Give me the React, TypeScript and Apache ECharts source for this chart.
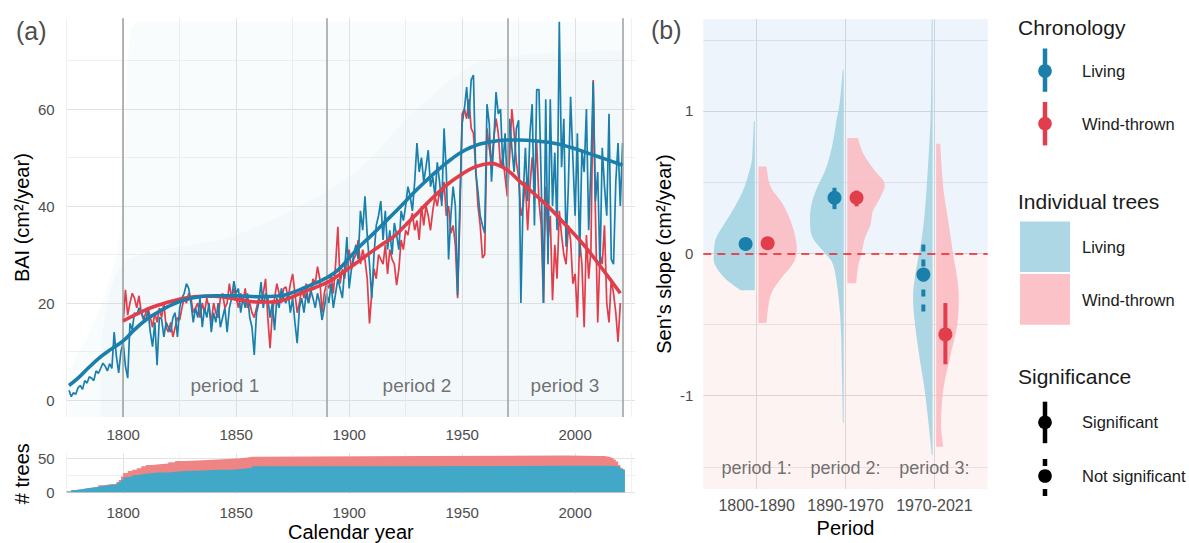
import React, { useEffect, useRef } from 'react';
import * as echarts from 'echarts';

// ---------------- Panel (a): chronologies ----------------
const livingStartYear = 1776;
const livingBAI = [
  2, 0.7, 1.5, 1.2,
  2.5, 3, 2.2, 4, 3.5, 4.8, 4.5, 4, 6, 5.5,
  6.5, 7.6, 7, 6, 7.5, 6.5, 14, 9, 5.6, 10,
  11.8, 7, 4.5, 15.8, 14.5, 18, 17.5, 19, 18, 17,
  16.5, 18.5, 14, 11, 16, 7.2, 17, 16.7, 13, 16,
  15, 14, 17, 18, 13, 19, 21, 22, 24, 23,
  20, 16, 19, 17, 21, 15, 19, 17, 20, 14,
  18, 16, 20, 15, 17, 19, 14, 19, 21, 24.5,
  22, 23, 18, 21, 19, 22, 17, 15, 9.3, 18,
  20, 24.3, 19, 22, 21, 17, 20, 14.4, 21, 19,
  23, 21, 20, 22, 18, 21, 16, 11.7, 19, 21,
  18, 22, 20, 22.7, 21, 19, 22, 20, 16.5, 19,
  22, 20, 24, 19, 22, 25, 23, 21, 27, 33.6,
  23, 27, 30, 32, 29, 39, 35, 42, 34, 28,
  21, 30, 36, 38, 41, 33, 39, 31, 35, 30,
  36.5, 34, 31, 39, 37, 40, 44, 42, 39, 45,
  53, 47, 50, 45, 48, 51.5, 44, 46, 42, 49,
  45, 40, 56, 47, 29, 38, 44, 40, 21.6, 41,
  57, 60, 64.5, 58, 66, 67, 47, 43, 38, 36,
  34.4, 61, 57, 45, 53, 63.5, 59, 60, 48, 55,
  44, 58, 52, 47, 56, 57.7, 20, 42, 52, 41,
  55, 61, 36, 64, 64, 45, 20, 62, 28, 62,
  40, 51, 35, 78, 48, 58, 31.6, 44, 62.5, 50,
  38, 55, 29.5, 51.5, 47, 60, 35, 48, 65.6, 41,
  47, 27, 52, 44, 38, 59, 29, 28, 45, 53,
  40, 53,
];
const windStartYear = 1800;
const windBAI = [
  16, 22.7, 17.5, 20, 22, 21, 19, 21.5, 18, 16.5,
  18, 19, 17, 15, 18, 16, 19, 17, 20, 15,
  14, 16, 13, 15, 17, 16.5, 19, 21, 20, 22,
  21, 18, 19, 20, 17, 20, 18, 21, 19, 16,
  20, 18, 17, 21, 22, 19, 20, 24, 21, 23,
  21, 19, 22, 20, 23, 19, 20, 18, 17, 19,
  21, 20, 22, 25, 17, 10.7, 18, 21, 24, 22,
  20, 23, 23.3, 21, 24, 26, 22, 18, 20, 23,
  21, 24, 20, 22, 25, 24, 27.5, 25, 18, 22,
  24, 23, 26, 22, 28, 35.7, 24, 27, 25, 29,
  31, 27, 29, 30, 33, 28, 31, 29, 25, 15.8,
  22, 27, 25, 30, 29, 28, 32, 26, 31, 29,
  28, 23.7, 27, 33, 31, 35, 34, 37, 38.5, 35,
  37, 33, 40, 36, 40, 38, 35, 39, 42, 40,
  43, 41, 45, 38, 40, 34.4, 36, 32, 21, 38,
  59, 60, 58, 62, 56, 55, 48, 40, 36, 29.3,
  30, 56, 52, 49, 54, 58, 55, 48, 50, 46,
  42, 50, 60, 55, 49, 46, 38, 40, 45, 35,
  44, 50, 45, 53, 41, 36, 20, 44, 33, 38,
  20.6, 32, 25, 39, 34, 30, 28, 36, 33, 24,
  26, 17, 33, 28, 15, 34, 25, 31, 66, 38,
  16, 30, 28, 36, 20, 16, 25, 22, 18, 12,
  20,
];

// loess-type smooths with confidence half-widths
const livingSmoothYears = [1776, 1780, 1785, 1790, 1795, 1800, 1805, 1810, 1815, 1820, 1825, 1830, 1840, 1850, 1860, 1870, 1875, 1880, 1885, 1890, 1895, 1900, 1905, 1910, 1915, 1920, 1925, 1930, 1935, 1940, 1945, 1950, 1955, 1960, 1965, 1970, 1975, 1980, 1985, 1990, 1995, 2000, 2005, 2010, 2015, 2021];
const livingSmooth = [3, 4.5, 6.8, 8.9, 10.6, 12.2, 14.5, 16.5, 18, 19.3, 20.3, 21, 21.5, 21.5, 21.3, 21.5, 22.2, 23.1, 24.1, 25.2, 26.8, 29.3, 31.8, 34, 36.3, 38.6, 41, 43.4, 45.6, 47.7, 49.6, 51.2, 52.3, 53, 53.4, 53.6, 53.6, 53.5, 53.3, 53, 52.5, 51.8, 51, 50.2, 49.4, 48.4];
const livingSmoothCI = [5, 3.8, 2.8, 2.1, 1.7, 1.4, 1.2, 1.1, 1, 1, 0.9, 0.9, 0.9, 0.9, 0.9, 0.9, 0.9, 0.9, 0.9, 0.9, 0.9, 0.9, 0.9, 0.9, 0.9, 0.9, 0.9, 0.9, 0.9, 0.9, 0.9, 0.9, 0.9, 0.9, 0.9, 0.9, 1, 1.1, 1.2, 1.3, 1.4, 1.5, 1.7, 1.9, 2.2, 2.6];
const windSmoothYears = [1800, 1805, 1810, 1815, 1820, 1825, 1830, 1835, 1840, 1845, 1850, 1855, 1860, 1865, 1870, 1875, 1880, 1885, 1890, 1895, 1900, 1905, 1910, 1915, 1920, 1925, 1930, 1935, 1940, 1945, 1950, 1955, 1960, 1963, 1965, 1970, 1975, 1980, 1985, 1990, 1995, 2000, 2005, 2010, 2015, 2020];
const windSmooth = [16.3, 17.5, 18.6, 19.5, 20.2, 20.8, 21.2, 21.4, 21.4, 21.2, 20.8, 20.4, 20.2, 20.2, 20.5, 21.3, 22.3, 23.2, 24.2, 25.6, 27.2, 28.9, 30.6, 32.2, 33.8, 36.1, 38.4, 40.8, 43, 45, 46.6, 47.9, 48.6, 48.8, 48.6, 47.4, 45.3, 43.3, 41.2, 39, 36.5, 34, 31.3, 28.3, 25.2, 22];
const windSmoothCI = [2, 1.5, 1.2, 1, 0.9, 0.9, 0.9, 0.9, 0.9, 0.9, 0.9, 0.9, 0.9, 0.9, 0.9, 0.9, 0.9, 0.9, 0.9, 0.9, 0.9, 0.9, 0.9, 0.9, 0.9, 0.9, 0.9, 0.9, 0.9, 0.9, 0.9, 0.9, 0.9, 0.9, 0.9, 0.9, 1, 1.05, 1.1, 1.2, 1.25, 1.35, 1.5, 1.8, 2.1, 2.6];

// faint range of the individual tree series
const hazeYears = [1776, 1785, 1792, 1797, 1800, 1806, 1850, 1900, 1950, 2021];
const hazeHigh = [6, 14, 22, 30, 42, 78, 78, 78, 78, 78];
const coreYears = [1790, 1800, 1850, 1900, 1930, 1960, 2021];
const coreHigh = [10, 28, 34, 46, 60, 70, 72];

const periodBounds = [1800, 1890, 1970, 2021];
const periodNames = ['period 1', 'period 2', 'period 3'];
const periodMid = [1845, 1930, 1995.5];

const gridYears = [1775, 1800, 1825, 1850, 1875, 1900, 1925, 1950, 1975, 2000, 2025];
const labelYears = [1800, 1850, 1900, 1950, 2000];
const baiGrid = [0, 10, 20, 30, 40, 50, 60, 70];
const baiLabels = [0, 20, 40, 60];

// ---------------- Panel (a): number of trees ----------------
const countYears = [1775, 1777, 1779, 1781, 1783, 1785, 1787, 1789, 1791, 1793, 1795, 1797, 1798, 1799, 1800, 1802, 1804, 1806, 1808, 1810, 1813, 1816, 1820, 1823, 1828, 1835, 1842, 1848, 1852, 1855, 1857, 1934, 1996, 2010, 2013, 2015, 2016, 2017, 2018, 2019, 2020, 2021, 2022];
const livingCount = [1, 3, 4, 5, 6, 7, 8, 9, 10, 11, 11, 13, 15, 18, 22, 23, 25, 26, 27, 28, 29, 29, 30, 31, 32, 33, 33, 34, 35, 36, 38, 39, 39, 39, 39, 39, 39, 38, 38, 37, 34, 33, 33];
const windCount = [0, 0, 0, 0, 0, 0, 0, 1, 1, 1, 1, 2, 3, 5, 6, 8, 8, 9, 11, 12, 12, 13, 14, 15, 15, 15, 16, 16, 16, 16, 15, 15, 14, 14, 13, 12, 11, 10, 7, 3, 2, 0, 0];
const countGrid = [0, 25, 50];
const countLabels = [0, 50];

// ---------------- Panel (b): Sen's slopes ----------------
const periodCats = ['1800-1890', '1890-1970', '1970-2021'];
const periodCaps = ['period 1:', 'period 2:', 'period 3:'];
const livingSlope = [0.065, 0.39, -0.15];
const livingLo = [0.04, 0.31, -0.41];
const livingHi = [0.09, 0.46, 0.07];
const livingSig = [1, 1, 0];
const windSlope = [0.07, 0.39, -0.57];
const windLo = [0.045, 0.33, -0.78];
const windHi = [0.095, 0.44, -0.35];
const windSig = [1, 1, 1];

// half-violin density profiles (y value, half width in category units)
const livingViolinY = [
  [-0.26, -0.18, -0.08, 0, 0.1, 0.2, 0.29, 0.38, 0.46, 0.56, 0.65, 0.8, 0.93],
  [-1.19, -0.85, -0.49, -0.25, -0.08, 0, 0.11, 0.23, 0.35, 0.46, 0.58, 0.7, 0.82, 0.94, 1.06, 1.29],
  [-1.42, -1.2, -0.96, -0.72, -0.49, -0.3, -0.13, 0.11, 0.35, 0.58, 1.0, 1.64],
];
const livingViolinW = [
  [0.16, 0.33, 0.45, 0.46, 0.44, 0.35, 0.26, 0.18, 0.12, 0.07, 0.035, 0.02, 0.01],
  [0.01, 0.02, 0.035, 0.07, 0.12, 0.21, 0.35, 0.38, 0.36, 0.3, 0.21, 0.15, 0.11, 0.08, 0.045, 0.01],
  [0.01, 0.045, 0.09, 0.15, 0.2, 0.22, 0.19, 0.12, 0.08, 0.055, 0.02, 0.01],
];
const windViolinY = [
  [-0.49, -0.3, -0.18, -0.08, 0, 0.1, 0.23, 0.35, 0.47, 0.61],
  [-0.21, -0.1, 0, 0.11, 0.2, 0.3, 0.39, 0.49, 0.58, 0.7, 0.81],
  [-1.36, -1.2, -0.96, -0.72, -0.49, -0.25, 0, 0.23, 0.46, 0.77],
];
const windViolinW = [
  [0.09, 0.135, 0.25, 0.38, 0.43, 0.42, 0.36, 0.27, 0.135, 0.09],
  [0.1, 0.12, 0.16, 0.2, 0.26, 0.29, 0.37, 0.42, 0.31, 0.18, 0.12],
  [0.08, 0.055, 0.08, 0.16, 0.24, 0.25, 0.19, 0.135, 0.08, 0.045],
];
const slopeGrid = [-1.5, -1, -0.5, 0, 0.5, 1, 1.5];
const slopeLabels = [-1, 0, 1];

// ---------------- styling ----------------
const FONT = "'Liberation Sans', Arial, Helvetica, sans-serif";
const TICK = '#4d4d4d';
const BLUE = '#1a7fab';
const RED = '#e13d4a';
const MAJOR = '#e2e2e2';
const MINOR = '#f0f0f0';
const DODGE = 0.124;
const GAP = 0.02;
const VBLUE = 'rgba(166,212,227,0.92)';
const VPINK = 'rgba(250,186,192,0.88)';

function catmull(ys: number[], ws: number[], steps = 8): [number, number][] {
  const out: [number, number][] = [];
  const n = ys.length;
  for (let i = 0; i < n - 1; i++) {
    const a = Math.max(i - 1, 0), d = Math.min(i + 2, n - 1);
    for (let s = 0; s < steps; s++) {
      const t = s / steps, t2 = t * t, t3 = t2 * t;
      const f = (p0: number, p1: number, p2: number, p3: number) =>
        0.5 * (2 * p1 + (-p0 + p2) * t + (2 * p0 - 5 * p1 + 4 * p2 - p3) * t2 + (-p0 + 3 * p1 - 3 * p2 + p3) * t3);
      out.push([f(ys[a], ys[i], ys[i + 1], ys[d]), Math.max(0.004, f(ws[a], ws[i], ws[i + 1], ws[d]))]);
    }
  }
  out.push([ys[n - 1], ws[n - 1]]);
  return out;
}

function yearSeries(start: number, vals: number[]) {
  return vals.map((v, i) => [start + i, v]);
}

function band(years: number[], mid: number[], half: number[], id: string) {
  return [
    {
      type: 'line', xAxisIndex: 0, yAxisIndex: 0, stack: id, smooth: true, symbol: 'none', silent: true, z: 5,
      lineStyle: { opacity: 0 }, data: years.map((y, i) => [y, mid[i] - half[i]]),
    },
    {
      type: 'line', xAxisIndex: 0, yAxisIndex: 0, stack: id, smooth: true, symbol: 'none', silent: true, z: 5,
      lineStyle: { opacity: 0 }, areaStyle: { color: 'rgba(140,140,140,0.45)' },
      data: years.map((y, i) => [y, 2 * half[i]]),
    },
  ];
}

function hazeArea(years: number[], high: number[], color: string) {
  return {
    type: 'line', xAxisIndex: 0, yAxisIndex: 0, smooth: 0.3, symbol: 'none', silent: true, z: 1,
    lineStyle: { opacity: 0 }, areaStyle: { color, origin: 'start' },
    data: years.map((y, i) => [y, high[i]]),
  };
}

function splitColors(vals: number[], majors: number[]) {
  return vals.map((v) => (majors.indexOf(v) >= 0 ? MAJOR : MINOR));
}

function buildOption() {
  const tickLabel = { color: TICK, fontSize: 15, fontFamily: FONT };
  const nameStyle = { color: '#000', fontSize: 20, fontFamily: FONT };

  const xYear = (gridIndex: number, extra: any = {}) => ({
    type: 'value', gridIndex, min: 1775, max: 2026.5,
    axisLine: { show: false },
    axisTick: { show: false, customValues: gridYears },
    axisLabel: { ...tickLabel, customValues: labelYears, margin: 10, formatter: (v: number) => String(v) },
    splitLine: { show: true, lineStyle: { color: splitColors(gridYears, labelYears), width: 1 } },
    ...extra,
  });

  const violinItems: number[][] = [];
  const ciItems: number[][] = [];
  for (let k = 0; k < 3; k++) {
    violinItems.push([k + 1, -1, k]);
    violinItems.push([k + 1, 1, k]);
    ciItems.push([k + 1 - DODGE, livingLo[k], livingHi[k], livingSig[k], 0]);
    ciItems.push([k + 1 + DODGE, windLo[k], windHi[k], windSig[k], 1]);
  }
  const totalCount = livingCount.map((v, i) => v + windCount[i]);

  const legendText = (x: number, y: number, text: string, size: number) => ({
    type: 'text', x, y, silent: true,
    style: { text, fill: '#1a1a1a', font: `${size}px ${FONT}`, align: 'left', verticalAlign: 'middle' },
  });
  const pointRange = (x: number, y1: number, y2: number, cy: number, color: string, dashed: boolean) => [
    {
      type: 'line', silent: true,
      shape: { x1: x, y1, x2: x, y2 },
      style: { stroke: color, lineWidth: 4.5, lineDash: dashed ? [7, 8] : null },
    },
    { type: 'circle', silent: true, shape: { cx: x, cy, r: 6.8 }, style: { fill: color } },
  ];

  return {
    animation: false,
    backgroundColor: '#ffffff',
    textStyle: { fontFamily: FONT },
    grid: [
      { left: 66.7, top: 18.3, width: 568.3, height: 398.7 },
      { left: 66.7, top: 453.4, width: 568.3, height: 45.2 },
      { left: 703.3, top: 19, width: 284.4, height: 479.6 },
    ],
    xAxis: [
      xYear(0),
      xYear(1, {
        name: 'Calendar year', nameLocation: 'middle', nameGap: 28, nameTextStyle: nameStyle,
        axisLabel: { ...tickLabel, customValues: labelYears, margin: 11, formatter: (v: number) => String(v) },
      }),
      {
        type: 'value', gridIndex: 2, min: 0.4, max: 3.6,
        axisLine: { show: false },
        axisTick: { show: false, customValues: [1, 2, 3] },
        axisLabel: {
          ...tickLabel, fontSize: 16, margin: 8, customValues: [1, 2, 3],
          formatter: (v: number) => periodCats[Math.round(v) - 1] ?? '',
        },
        splitLine: { show: true, lineStyle: { color: '#dedede', width: 1 } },
        name: 'Period', nameLocation: 'middle', nameGap: 28, nameTextStyle: nameStyle,
      },
    ],
    yAxis: [
      {
        type: 'value', gridIndex: 0, min: -3.5, max: 78.7,
        axisLine: { show: false },
        axisTick: { show: false, customValues: baiGrid },
        axisLabel: { ...tickLabel, customValues: baiLabels, margin: 12 },
        splitLine: { show: true, lineStyle: { color: splitColors(baiGrid, baiLabels), width: 1 } },
        name: 'BAI (cm²/year)', nameLocation: 'middle', nameGap: 35, nameRotate: 90, nameTextStyle: nameStyle,
      },
      {
        type: 'value', gridIndex: 1, min: -2.7, max: 57,
        axisLine: { show: false },
        axisTick: { show: false, customValues: countGrid },
        axisLabel: { ...tickLabel, customValues: countLabels, margin: 12 },
        splitLine: { show: true, lineStyle: { color: splitColors(countGrid, countLabels), width: 1 } },
        name: '# trees', nameLocation: 'middle', nameGap: 35, nameRotate: 90, nameTextStyle: nameStyle,
      },
      {
        type: 'value', gridIndex: 2, min: -1.657, max: 1.646,
        axisLine: { show: false },
        axisTick: { show: false, customValues: slopeGrid },
        axisLabel: { ...tickLabel, customValues: slopeLabels, margin: 10 },
        splitLine: { show: true, lineStyle: { color: slopeGrid.map((v) => (slopeLabels.indexOf(v) >= 0 ? '#dcdcdc' : '#e9e9e9')), width: 1 } },
        name: "Sen's slope (cm²/year)", nameLocation: 'middle', nameGap: 29, nameRotate: 90, nameTextStyle: nameStyle,
      },
    ],
    series: [
      // faint individual-tree haze
      hazeArea(hazeYears, hazeHigh, 'rgba(173,216,230,0.11)'),
      hazeArea(coreYears, coreHigh, 'rgba(173,216,230,0.10)'),
      // raw chronologies
      {
        type: 'line', xAxisIndex: 0, yAxisIndex: 0, symbol: 'none', silent: true, z: 3,
        lineStyle: { color: RED, width: 1.7 }, data: yearSeries(windStartYear, windBAI),
      },
      {
        type: 'line', xAxisIndex: 0, yAxisIndex: 0, symbol: 'none', silent: true, z: 4,
        lineStyle: { color: BLUE, width: 1.7 }, data: yearSeries(livingStartYear, livingBAI),
        markLine: {
          silent: true, symbol: 'none', label: { show: false },
          lineStyle: { color: '#a3a3a3', width: 1.6, type: 'solid' },
          data: periodBounds.map((x) => ({ xAxis: x })),
        },
      },
      ...band(windSmoothYears, windSmooth, windSmoothCI, 'ciW'),
      ...band(livingSmoothYears, livingSmooth, livingSmoothCI, 'ciL'),
      {
        type: 'line', xAxisIndex: 0, yAxisIndex: 0, smooth: true, symbol: 'none', silent: true, z: 6,
        lineStyle: { color: RED, width: 3.6 }, data: windSmoothYears.map((y, i) => [y, windSmooth[i]]),
      },
      {
        type: 'line', xAxisIndex: 0, yAxisIndex: 0, smooth: true, symbol: 'none', silent: true, z: 7,
        lineStyle: { color: BLUE, width: 3.6 }, data: livingSmoothYears.map((y, i) => [y, livingSmooth[i]]),
      },
      {
        type: 'scatter', xAxisIndex: 0, yAxisIndex: 0, symbolSize: 0, silent: true, z: 8,
        data: periodMid.map((x, i) => ({ value: [x, 2.9], name: periodNames[i] })),
        label: { show: true, position: 'inside', formatter: (p: any) => p.name, color: TICK, fontSize: 19, fontFamily: FONT },
      },
      // tree counts: total (wind-thrown on top) then living
      {
        type: 'line', xAxisIndex: 1, yAxisIndex: 1, step: 'end', symbol: 'none', silent: true, z: 2,
        lineStyle: { width: 0, opacity: 0 }, areaStyle: { color: '#ef8484', opacity: 1 },
        data: countYears.map((y, i) => [y, totalCount[i]]),
      },
      {
        type: 'line', xAxisIndex: 1, yAxisIndex: 1, step: 'end', symbol: 'none', silent: true, z: 3,
        lineStyle: { width: 0, opacity: 0 }, areaStyle: { color: '#41a8c8', opacity: 1 },
        data: countYears.map((y, i) => [y, livingCount[i]]),
      },
      // panel (b): background, zero line, captions
      {
        type: 'scatter', xAxisIndex: 2, yAxisIndex: 2, symbolSize: 0, silent: true, z: 1,
        data: periodCaps.map((c, i) => ({ value: [i + 1, -1.51], name: c })),
        label: { show: true, position: 'inside', formatter: (p: any) => p.name, color: TICK, fontSize: 18, fontFamily: FONT },
        markArea: {
          silent: true,
          data: [
            [{ yAxis: 0, itemStyle: { color: 'rgba(60,130,210,0.085)' } }, { yAxis: 1.646 }],
            [{ yAxis: -1.657, itemStyle: { color: 'rgba(235,95,95,0.075)' } }, { yAxis: 0 }],
          ],
        },
        markLine: {
          silent: true, symbol: 'none', label: { show: false },
          lineStyle: { color: '#ee1d25', width: 1.6, type: [8, 6] },
          data: [{ yAxis: 0 }],
        },
      },
      {
        type: 'custom', xAxisIndex: 2, yAxisIndex: 2, silent: true, z: 2,
        data: violinItems,
        renderItem: (_params: any, api: any) => {
          const cat = api.value(0), side = api.value(1), k = api.value(2);
          const ys = side < 0 ? livingViolinY[k] : windViolinY[k];
          const ws = side < 0 ? livingViolinW[k] : windViolinW[k];
          const pts = catmull(ys, ws).map(([y, w]) => api.coord([cat + side * (GAP + w), y]));
          pts.push(api.coord([cat + side * GAP, ys[ys.length - 1]]));
          pts.push(api.coord([cat + side * GAP, ys[0]]));
          return {
            type: 'polygon', shape: { points: pts },
            style: { fill: side < 0 ? VBLUE : VPINK },
          };
        },
      },
      {
        type: 'custom', xAxisIndex: 2, yAxisIndex: 2, silent: true, z: 3,
        encode: { x: 0, y: [1, 2] },
        data: ciItems,
        renderItem: (_params: any, api: any) => {
          const x = api.value(0), lo = api.value(1), hi = api.value(2), sig = api.value(3), c = api.value(4);
          const p1 = api.coord([x, lo]), p2 = api.coord([x, hi]);
          return {
            type: 'line', shape: { x1: p1[0], y1: p1[1], x2: p2[0], y2: p2[1] },
            style: { stroke: c ? RED : BLUE, lineWidth: 4, lineDash: sig ? null : [7, 8] },
          };
        },
      },
      {
        type: 'scatter', xAxisIndex: 2, yAxisIndex: 2, symbolSize: 14, silent: true, z: 4,
        itemStyle: { color: BLUE, opacity: 1 },
        data: livingSlope.map((v, i) => [i + 1 - DODGE, v]),
      },
      {
        type: 'scatter', xAxisIndex: 2, yAxisIndex: 2, symbolSize: 14, silent: true, z: 4,
        itemStyle: { color: RED, opacity: 1 },
        data: windSlope.map((v, i) => [i + 1 + DODGE, v]),
      },
    ],
    graphic: [
      { type: 'text', x: 16, y: 31, silent: true, style: { text: '(a)', fill: TICK, font: `25px ${FONT}`, verticalAlign: 'middle' } },
      { type: 'text', x: 651, y: 30, silent: true, style: { text: '(b)', fill: TICK, font: `25px ${FONT}`, verticalAlign: 'middle' } },
      legendText(1018, 27, 'Chronology', 21),
      ...pointRange(1045, 48.5, 91.8, 71, BLUE, false),
      legendText(1082, 71, 'Living', 16.5),
      ...pointRange(1045, 102, 145.4, 123.6, RED, false),
      legendText(1082, 123.6, 'Wind-thrown', 16.5),
      legendText(1018, 201, 'Individual trees', 21),
      { type: 'rect', silent: true, shape: { x: 1020, y: 221.6, width: 50, height: 50.4 }, style: { fill: VBLUE } },
      { type: 'rect', silent: true, shape: { x: 1020, y: 274, width: 50, height: 50.8 }, style: { fill: VPINK } },
      legendText(1082, 246.5, 'Living', 16.5),
      legendText(1082, 300, 'Wind-thrown', 16.5),
      legendText(1018, 376.5, 'Significance', 21),
      ...pointRange(1045, 401.7, 443.2, 422.4, '#000', false),
      legendText(1082, 422.4, 'Significant', 16.5),
      ...pointRange(1045, 459, 497, 476, '#000', true),
      legendText(1082, 476, 'Not significant', 16.5),
    ],
  };
}

export default function App() {
  const ref = useRef<HTMLDivElement>(null);
  useEffect(() => {
    if (!ref.current) return;
    const chart = echarts.init(ref.current, null, { renderer: 'svg' });
    chart.setOption(buildOption() as any);
    return () => chart.dispose();
  }, []);
  return (
    <div
      ref={ref}
      style={{ position: 'fixed', left: 0, top: 0, width: 1189, height: 543, background: '#ffffff' }}
    />
  );
}
